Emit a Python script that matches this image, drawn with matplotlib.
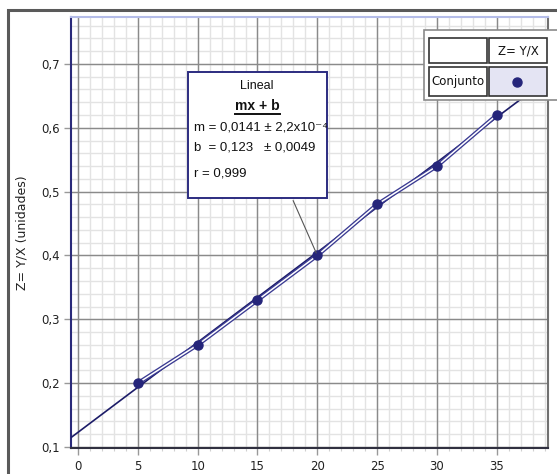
import matplotlib.pyplot as plt
from matplotlib.patches import Rectangle
from matplotlib.lines import Line2D
from matplotlib.ticker import FuncFormatter
import numpy as np

# measured values Z = Y/X
x_vals = [5, 10, 15, 20, 25, 30, 35]
z_vals = [0.20, 0.26, 0.33, 0.40, 0.48, 0.54, 0.62]

# linear fit  mx + b
m_fit = 0.0141
b_fit = 0.123

x_ticks = [0, 5, 10, 15, 20, 25, 30, 35]
y_ticks = [0.1, 0.2, 0.3, 0.4, 0.5, 0.6, 0.7]

W, H = 557, 474
navy = '#25257a'

def fx(px):
    return px / W

def fy(py):
    return 1 - py / H

fig = plt.figure(figsize=(W / 100, H / 100), dpi=100)
fig.patch.set_facecolor('white')

ax = fig.add_axes([fx(71), fy(448), fx(548) - fx(71), fy(17) - fy(448)])
ax.set_xlim(-0.58, 39.27)
ax.set_ylim(0.0985, 0.7734)

ax.set_xticks(x_ticks)
ax.set_yticks(y_ticks)
ax.set_xticks(np.arange(0, 40, 1), minor=True)
ax.yaxis.set_major_formatter(FuncFormatter(lambda v, p: f'{v:.1f}'.replace('.', ',')))

# grid: light minor lines first, major lines on top
for v in np.arange(0, 40, 1):
    ax.axvline(v, color='#e3e3e3', lw=1.0, zorder=0.5)
for v in np.arange(0.1, 0.78, 0.02):
    ax.axhline(v, color='#e3e3e3', lw=1.0, zorder=0.5)
for v in x_ticks:
    ax.axvline(v, color='#8a8a8a', lw=1.0, zorder=1)
for v in y_ticks:
    ax.axhline(v, color='#8a8a8a', lw=1.0, zorder=1)

ax.tick_params(which='major', direction='out', length=5, width=1, color='#999999',
               labelsize=8.5, labelcolor='#222222')
ax.tick_params(axis='x', which='major', pad=4)
ax.tick_params(axis='y', which='major', pad=3)
ax.tick_params(axis='x', which='minor', direction='out', length=2, width=0.8, color='#d0d0d0')

ax.spines['left'].set_color('#2a2a7a')
ax.spines['bottom'].set_color('#303040')
ax.spines['top'].set_color('#b4bce8')
ax.spines['right'].set_color('#707070')
for s in ax.spines.values():
    s.set_linewidth(1.5)

ax.set_ylabel('Z= Y/X (unidades)', fontsize=9, color='#222222', labelpad=9)

# fit line across the whole plot
xl = ax.get_xlim()
ax.plot(list(xl), [m_fit * xl[0] + b_fit, m_fit * xl[1] + b_fit],
        color='#1c1c68', lw=1.2, zorder=3)

# data line drawn as an outlined stroke, then the points
ax.plot(x_vals, z_vals, color='#3a3a92', lw=3.0, zorder=4, solid_capstyle='butt')
ax.plot(x_vals, z_vals, color='white', lw=1.1, zorder=5)
ax.plot(x_vals, z_vals, 'o', color=navy, ms=6.5, zorder=6)

# outer frame
fig.add_artist(Rectangle((fx(8), fy(700)), fx(800), fy(10) - fy(700),
                         transform=fig.transFigure, fill=False,
                         edgecolor='#5a5a5a', lw=2.2, zorder=1))

# fit info box
fig.add_artist(Rectangle((fx(188), fy(198)), fx(327) - fx(188), fy(72) - fy(198),
                         transform=fig.transFigure, facecolor='white',
                         edgecolor='#2c2c80', lw=1.4, zorder=10))
box_font = dict(family=['Liberation Sans', 'DejaVu Sans'], color='#111111', zorder=11)
fig.text(fx(257), fy(86), 'Lineal', ha='center', va='center', fontsize=9, **box_font)
fig.text(fx(257), fy(106), 'mx + b', ha='center', va='center', fontsize=10,
         fontweight='bold', **box_font)
fig.add_artist(Line2D([fx(235), fx(280)], [fy(114), fy(114)], color='#111111',
                      lw=1.4, transform=fig.transFigure, zorder=11))
fig.text(fx(194), fy(128), 'm = 0,0141 \u00b1 2,2x10\u207b\u2074', ha='left', va='center',
         fontsize=9.5, **box_font)
fig.text(fx(194), fy(147), 'b  = 0,123   \u00b1 0,0049', ha='left', va='center',
         fontsize=9.5, **box_font)
fig.text(fx(194), fy(173), 'r = 0,999', ha='left', va='center', fontsize=9.5, **box_font)

ax.annotate('', xy=(20, 0.40), xycoords='data',
            xytext=(fx(292), fy(198)), textcoords='figure fraction',
            arrowprops=dict(arrowstyle='-', color='#555555', lw=0.8), zorder=7)

# legend table
fig.add_artist(Rectangle((fx(424), fy(100)), fx(700) - fx(424), fy(30) - fy(100),
                         transform=fig.transFigure, facecolor='white',
                         edgecolor='#8a8a8a', lw=1.2, zorder=12))
cells = [(429, 38, 487, 63, 'white'), (489, 38, 547, 63, 'white'),
         (429, 67, 487, 96, 'white'), (489, 67, 547, 96, '#e4e4f3')]
for x0, y0, x1, y1, fc in cells:
    fig.add_artist(Rectangle((fx(x0), fy(y1)), fx(x1) - fx(x0), fy(y0) - fy(y1),
                             transform=fig.transFigure, facecolor=fc,
                             edgecolor='#333333', lw=1.2, zorder=13))
fig.text(fx(518), fy(51), 'Z= Y/X', ha='center', va='center', fontsize=8.5,
         color='#111111', zorder=14)
fig.text(fx(458), fy(81), 'Conjunto', ha='center', va='center', fontsize=8.5,
         color='#111111', zorder=14)
fig.add_artist(Line2D([fx(517)], [fy(82)], marker='o', ms=6.5, color=navy,
                      transform=fig.transFigure, zorder=14))

fig.savefig('out.png', dpi=100)
